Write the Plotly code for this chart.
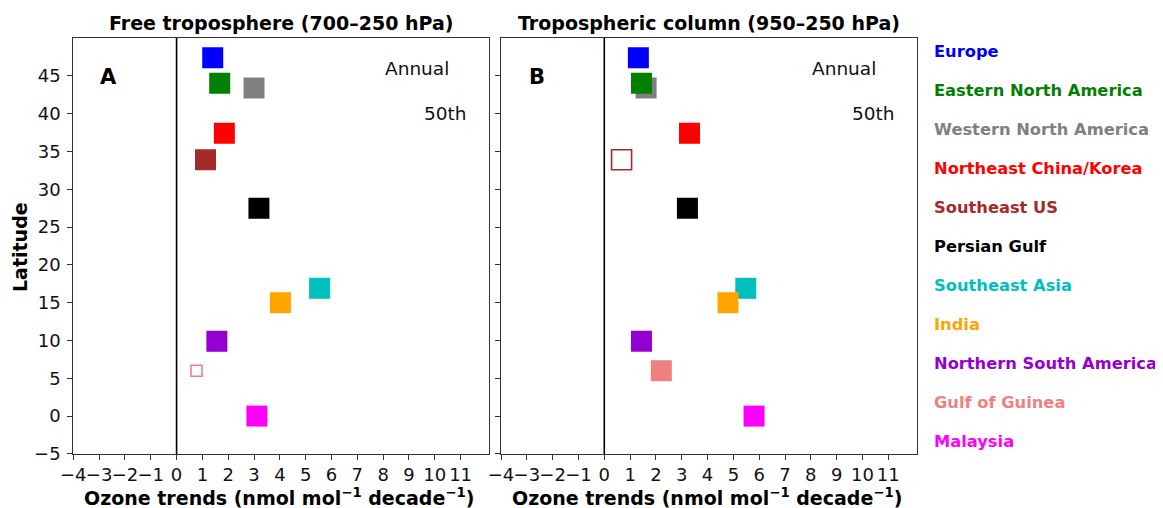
import plotly.graph_objects as go

# page body has an 8px margin, so the figure is sized to fit inside the window
OFF = 8
W, H = 1163 - OFF, 508 - OFF

regions = ["Europe", "Eastern North America", "Western North America",
           "Northeast China/Korea", "Southeast US", "Persian Gulf",
           "Southeast Asia", "India", "Northern South America",
           "Gulf of Guinea", "Malaysia"]
colors = ["#0000FF", "#008000", "#808080", "#FF0000", "#A52A2A", "#000000",
          "#00BFBF", "#FFA500", "#9400D3", "#F08080", "#FF00FF"]
latitude = [47.4, 44.0, 43.4, 37.4, 33.9, 27.5, 16.9, 15.0, 9.9, 6.0, 0.0]

trend_free = [1.40, 1.67, 3.00, 1.85, 1.12, 3.19, 5.54, 4.02, 1.56, 0.77, 3.11]
open_free = [False, False, False, False, False, False, False, False, False, True, False]
size_free = [21, 21, 21, 21, 21, 21, 21, 21, 21, 12, 21]

trend_col = [1.32, 1.44, 1.62, 3.30, 0.67, 3.22, 5.48, 4.79, 1.44, 2.21, 5.80]
open_col = [False, False, False, False, True, False, False, False, False, False, False]
size_col = [21] * 11

draw_order = [0, 2, 1, 3, 4, 5, 6, 7, 8, 9, 10]

xtick_vals = list(range(-4, 12))
ytick_vals = list(range(-5, 50, 5))

def px_x(p):
    return (p - OFF) / W

def px_y(p):
    return 1 - (p - OFF) / H

fig = go.Figure()

for trends, opens, sizes, xa, ya in [(trend_free, open_free, size_free, "x", "y"),
                                      (trend_col, open_col, size_col, "x2", "y2")]:
    for i in draw_order:
        if opens[i]:
            marker = dict(symbol="square-open", size=sizes[i] - 1, color=colors[i],
                          line=dict(color=colors[i], width=1.6))
        else:
            marker = dict(symbol="square", size=sizes[i], color=colors[i],
                          line=dict(width=0))
        fig.add_trace(go.Scatter(x=[trends[i]], y=[latitude[i]], mode="markers",
                                 marker=marker, xaxis=xa, yaxis=ya,
                                 showlegend=False, hoverinfo="skip"))

font_family = "DejaVu Sans"
tick_font = dict(family=font_family, size=18, color="#111111")
ydom = [px_y(453.9), px_y(38)]

axis_common = dict(showgrid=False, zeroline=False, showline=True, mirror=True,
                   linecolor="#333333", linewidth=1.2, ticks="outside",
                   tickcolor="#333333", tickwidth=1.2, automargin=False)

xticktext = [str(v).replace("-", "\u2212") for v in xtick_vals]
yticktext = [str(v).replace("-", "\u2212") for v in ytick_vals]

fig.update_layout(
    width=W, height=H,
    margin=dict(l=0, r=0, t=0, b=0, pad=0, autoexpand=False),
    paper_bgcolor="white", plot_bgcolor="white",
    font=dict(family=font_family, color="#111111"),
    xaxis=dict(domain=[px_x(73.3), px_x(489)], range=[-4, 12.1],
               tickvals=xtick_vals, ticktext=xticktext, ticklen=4.5, tickangle=0,
               tickfont=tick_font, anchor="y", **axis_common),
    yaxis=dict(domain=ydom, range=[-5, 50], tickvals=ytick_vals,
               ticktext=yticktext, ticklen=5, tickfont=tick_font, tickangle=0,
               ticklabelstandoff=3, anchor="x", **axis_common),
    xaxis2=dict(domain=[px_x(501), px_x(916.7)], range=[-4, 12.1],
                tickvals=xtick_vals, ticktext=xticktext, ticklen=4.5, tickangle=0,
                tickfont=tick_font, anchor="y2", **axis_common),
    yaxis2=dict(domain=ydom, range=[-5, 50], tickvals=ytick_vals,
                showticklabels=False, ticklen=5, anchor="x2", **axis_common),
)

for xr, yr in [("x", "y domain"), ("x2", "y2 domain")]:
    fig.add_shape(type="line", x0=0, x1=0, y0=0, y1=1, xref=xr, yref=yr,
                  line=dict(color="black", width=1.6), layer="above")

ann = []
titles = ["<b>Free troposphere (700\u2013250 hPa)</b>",
          "<b>Tropospheric column (950\u2013250 hPa)</b>"]
centers = [281, 709]
for t, c in zip(titles, centers):
    ann.append(dict(text=t, x=px_x(c), y=px_y(23), xref="paper", yref="paper",
                    xanchor="center", yanchor="middle", showarrow=False,
                    font=dict(family=font_family, size=19, color="black")))
    ann.append(dict(text="<b>Ozone trends (nmol mol<sup>\u22121</sup> decade<sup>\u22121</sup>)</b>",
                    x=px_x(c - 2), y=px_y(497), xref="paper", yref="paper",
                    xanchor="center", yanchor="middle", showarrow=False,
                    font=dict(family=font_family, size=19, color="black")))

ann.append(dict(text="<b>Latitude</b>", x=px_x(20), y=px_y(247), xref="paper",
                yref="paper", xanchor="center", yanchor="middle", textangle=-90,
                showarrow=False, font=dict(family=font_family, size=19, color="black")))

for lab, xa, ya in [("A", "x", "y"), ("B", "x2", "y2")]:
    ann.append(dict(text="<b>" + lab + "</b>", x=-2.62, y=44.8, xref=xa, yref=ya,
                    xanchor="center", yanchor="middle", showarrow=False,
                    font=dict(family=font_family, size=21, color="black")))
    ann.append(dict(text="Annual", x=9.3, y=46.0, xref=xa, yref=ya,
                    xanchor="center", yanchor="middle", showarrow=False,
                    font=dict(family=font_family, size=18.5, color="#111111")))
    ann.append(dict(text="50th", x=10.43, y=40.0, xref=xa, yref=ya,
                    xanchor="center", yanchor="middle", showarrow=False,
                    font=dict(family=font_family, size=18.5, color="#111111")))

for i, (r, c) in enumerate(zip(regions, colors)):
    ann.append(dict(text="<b>" + r + "</b>", x=px_x(932), y=px_y(51.7 + 39 * i),
                    xref="paper", yref="paper", xanchor="left", yanchor="middle",
                    showarrow=False, font=dict(family=font_family, size=16.3, color=c)))

fig.update_layout(annotations=ann)
fig.write_html("out.html")
